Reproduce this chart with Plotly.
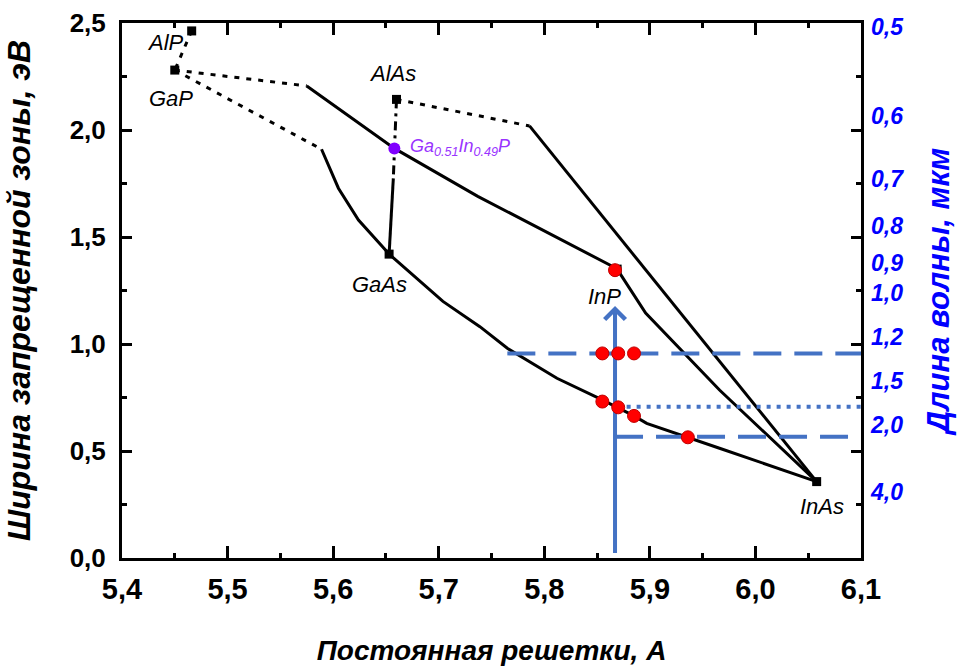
import plotly.graph_objects as go

# ---------------- data ----------------
# binary compounds: lattice constant (A), band gap (eV)
compound_names = ["AlP", "GaP", "AlAs", "GaAs", "InP", "InAs"]
compound_a = [5.466, 5.450, 5.660, 5.653, 5.869, 6.058]
compound_eg = [2.463, 2.280, 2.143, 1.420, 1.350, 0.357]

# label positions for compounds
label_a = [5.441, 5.446, 5.656, 5.644, 5.857, 6.063]
label_eg = [2.409, 2.145, 2.262, 1.280, 1.224, 0.243]

# AlP - GaP (dotted)
alp_gap_a = [5.466, 5.450]
alp_gap_eg = [2.463, 2.280]
# GaP - InP: indirect part (dotted) and direct part (solid)
gap_inp_ind_a = [5.450, 5.575]
gap_inp_ind_eg = [2.280, 2.206]
gap_inp_dir_a = [5.575, 5.658, 5.737, 5.868]
gap_inp_dir_eg = [2.206, 1.914, 1.690, 1.354]
# GaP - GaAs
gap_gaas_ind_a = [5.450, 5.589]
gap_gaas_ind_eg = [2.280, 1.910]
gap_gaas_dir_a = [5.589, 5.605, 5.624, 5.653]
gap_gaas_dir_eg = [1.910, 1.728, 1.579, 1.420]
# GaAs - InAs
gaas_inas_a = [5.653, 5.704, 5.739, 5.765, 5.812, 5.852, 5.885, 5.897, 5.966, 6.058]
gaas_inas_eg = [1.420, 1.199, 1.081, 0.980, 0.840, 0.746, 0.664, 0.629, 0.513, 0.357]
# AlAs - GaAs
alas_gaas_ind_a = [5.660, 5.657]
alas_gaas_ind_eg = [2.143, 1.774]
alas_gaas_dir_a = [5.657, 5.653]
alas_gaas_dir_eg = [1.774, 1.420]
# AlAs - InAs
alas_inas_ind_a = [5.660, 5.786]
alas_inas_ind_eg = [2.143, 2.019]
alas_inas_dir_a = [5.786, 6.058]
alas_inas_dir_eg = [2.019, 0.357]
# InP - InAs
inp_inas_a = [5.869, 5.896, 5.966, 6.058]
inp_inas_eg = [1.350, 1.145, 0.785, 0.357]

# Ga0.51In0.49P point
gainp_a = [5.658]
gainp_eg = [1.914]
gainp_label_a = 5.6706
gainp_label_eg = 1.92

# red points
red_a = [5.867, 5.855, 5.870, 5.885, 5.855, 5.870, 5.885, 5.936]
red_eg = [1.345, 0.956, 0.956, 0.956, 0.731, 0.704, 0.664, 0.564]

# blue guide lines
arrow_a = 5.867
arrow_eg = [0.023, 1.178]
h_dash1_a = [5.765, 6.1]
h_dash1_eg = [0.956, 0.956]
h_dot_a = [5.878, 6.1]
h_dot_eg = [0.707, 0.707]
h_dash2_a = [5.867, 6.1]
h_dash2_eg = [0.567, 0.567]

# right axis: wavelength (um)
wavelength_ticks = [0.5, 0.6, 0.7, 0.8, 0.9, 1.0, 1.2, 1.5, 2.0, 4.0]
wavelength_labels = ["0,5", "0,6", "0,7", "0,8", "0,9", "1,0", "1,2", "1,5", "2,0", "4,0"]
HC = 1.24  # eV*um, E = 1.24 / lambda

# ---------------- figure ----------------
FONT = "Liberation Sans, Arial, sans-serif"
BLUE = "#4472C4"
fig = go.Figure()


def line(xs, ys, dash="solid", width=3, color="black"):
    fig.add_trace(go.Scatter(x=xs, y=ys, mode="lines",
                             line=dict(color=color, width=width, dash=dash),
                             hoverinfo="skip", showlegend=False))


DOT = "5px,7px"
line(alp_gap_a, alp_gap_eg, DOT)
line(gap_inp_ind_a, gap_inp_ind_eg, DOT)
line(gap_inp_dir_a, gap_inp_dir_eg)
line(gap_gaas_ind_a, gap_gaas_ind_eg, DOT)
line(gap_gaas_dir_a, gap_gaas_dir_eg)
line(gaas_inas_a, gaas_inas_eg)
line(alas_gaas_ind_a, alas_gaas_ind_eg, "9px,5px,3px,5px")
line(alas_gaas_dir_a, alas_gaas_dir_eg)
line(alas_inas_ind_a, alas_inas_ind_eg, DOT)
line(alas_inas_dir_a, alas_inas_dir_eg)
line(inp_inas_a, inp_inas_eg)

fig.add_trace(go.Scatter(x=compound_a, y=compound_eg, mode="markers",
                         marker=dict(symbol="square", size=9, color="black"),
                         hoverinfo="skip", showlegend=False))

# blue guides
line(h_dash1_a, h_dash1_eg, "28px,13px", 4, BLUE)
line(h_dot_a, h_dot_eg, "4px,6px", 4, BLUE)
line(h_dash2_a, h_dash2_eg, "28px,13px", 4, BLUE)
line([arrow_a, arrow_a], [arrow_eg[0], arrow_eg[1] - 0.03], "solid", 4, BLUE)

fig.add_trace(go.Scatter(x=gainp_a, y=gainp_eg, mode="markers",
                         marker=dict(symbol="circle", size=12, color="#8000FF"),
                         hoverinfo="skip", showlegend=False))
fig.add_trace(go.Scatter(x=red_a, y=red_eg, mode="markers",
                         marker=dict(symbol="circle", size=13, color="#FF0000",
                                     line=dict(color="#C00000", width=1)),
                         hoverinfo="skip", showlegend=False))

# invisible trace on y2 to activate the right axis
fig.add_trace(go.Scatter(x=[compound_a[0]], y=[compound_eg[0]], yaxis="y2",
                         mode="markers", marker=dict(opacity=0),
                         hoverinfo="skip", showlegend=False))

# arrow head
fig.add_annotation(x=arrow_a, y=arrow_eg[1], ax=arrow_a, ay=arrow_eg[1] - 0.12,
                   xref="x", yref="y", axref="x", ayref="y", text="",
                   showarrow=True, arrowhead=4, arrowsize=1, arrowwidth=4,
                   arrowcolor=BLUE, standoff=0)

for name, xa, ya in zip(compound_names, label_a, label_eg):
    fig.add_annotation(x=xa, y=ya, text="<i>%s</i>" % name, showarrow=False,
                       font=dict(family=FONT, size=22, color="black"),
                       xanchor="center", yanchor="middle")

fig.add_annotation(x=gainp_label_a, y=gainp_label_eg,
                   text="<i>Ga<sub>0.51</sub>In<sub>0.49</sub>P</i>",
                   showarrow=False, font=dict(family=FONT, size=18, color="#9933FF"),
                   xanchor="left", yanchor="middle")

tick_font = dict(family=FONT, size=29, color="black", weight="bold")
x_title_font = dict(family=FONT, size=28, color="black", weight="bold", style="italic")
y_title_font = dict(family=FONT, size=32, color="black", weight="bold", style="italic")

fig.update_layout(
    width=959, height=667,
    margin=dict(l=122, r=98, t=23, b=109),
    plot_bgcolor="white", paper_bgcolor="white",
    separators=", ",
    xaxis=dict(range=[5.4, 6.1], tick0=5.4, dtick=0.1, tickformat=".1f",
               ticks="inside", ticklen=12, tickwidth=3, tickcolor="black",
               showline=True, linewidth=3, linecolor="black", mirror="ticks",
               showgrid=False, zeroline=False, automargin=False,
               minor=dict(dtick=0.05, ticks="inside", ticklen=5, tickwidth=3,
                          tickcolor="black", showgrid=False),
               tickfont=tick_font, ticklabelstandoff=3,
               title=dict(text="Постоянная решетки, А", font=x_title_font, standoff=37)),
    yaxis=dict(range=[0, 2.5], tick0=0, dtick=0.5, tickformat=".1f",
               ticks="inside", ticklen=10, tickwidth=3, tickcolor="black",
               showline=True, linewidth=3, linecolor="black", mirror="ticks",
               showgrid=False, zeroline=False, automargin=False,
               minor=dict(dtick=0.25, ticks="inside", ticklen=5, tickwidth=3,
                          tickcolor="black", showgrid=False),
               tickfont=dict(family=FONT, size=26, color="black", weight="bold"),
               ticklabelstandoff=8,
               title=dict(text="Ширина запрещенной зоны, эВ", font=y_title_font, standoff=30)),
    yaxis2=dict(overlaying="y", side="right", range=[0, 2.5],
                tickvals=[HC / w for w in wavelength_ticks], ticktext=wavelength_labels,
                ticks="", showline=False, showgrid=False, zeroline=False,
                automargin=False,
                tickfont=dict(family=FONT, size=23, color="#0000FF", weight="bold",
                              style="italic"),
                ticklabelstandoff=9,
                title=dict(text="Длина волны, мкм",
                           font=dict(family=FONT, size=31, color="#0000FF",
                                     weight="bold", style="italic"),
                           standoff=24)),
)

fig.write_html("out.html", config={"displayModeBar": False},
               post_script="document.body.style.margin='0';")
